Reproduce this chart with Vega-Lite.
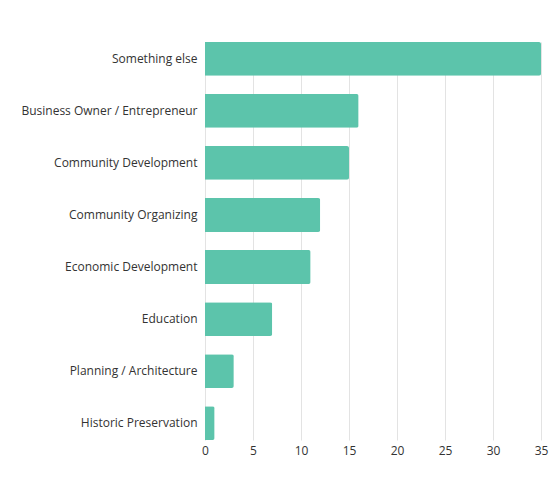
{
  "$schema": "https://vega.github.io/schema/vega-lite/v6.json",
  "autosize": "none",
  "width": 336,
  "height": 398,
  "padding": {"left": 205, "top": 42, "right": 18, "bottom": 38},
  "background": "white",
  "config": {"view": {"stroke": null}, "font": "Open Sans"},
  "data": {"values": [
    {"category": "Something else", "count": 35},
    {"category": "Business Owner / Entrepreneur", "count": 16},
    {"category": "Community Development", "count": 15},
    {"category": "Community Organizing", "count": 12},
    {"category": "Economic Development", "count": 11},
    {"category": "Education", "count": 7},
    {"category": "Planning / Architecture", "count": 3},
    {"category": "Historic Preservation", "count": 1}
  ]},
  "mark": {"type": "bar", "color": "#5cc4ab", "cornerRadiusEnd": 2},
  "encoding": {
    "y": {"field": "category", "type": "nominal", "sort": null,
      "scale": {"paddingInner": 0.35, "paddingOuter": 0},
      "axis": {"title": null, "ticks": false, "domain": false, "labelPadding": 8, "labelFontSize": 12, "labelColor": "#333333", "labelFont": "Open Sans"}},
    "x": {"field": "count", "type": "quantitative",
      "scale": {"domain": [0, 35], "nice": false},
      "axis": {"title": null, "values": [0,5,10,15,20,25,30,35], "ticks": false, "domain": false, "grid": true, "gridColor": "#e3e3e3", "labelFlush": false, "labelPadding": 5, "labelFontSize": 12, "labelColor": "#333333", "labelFont": "Open Sans"}}
  }
}
